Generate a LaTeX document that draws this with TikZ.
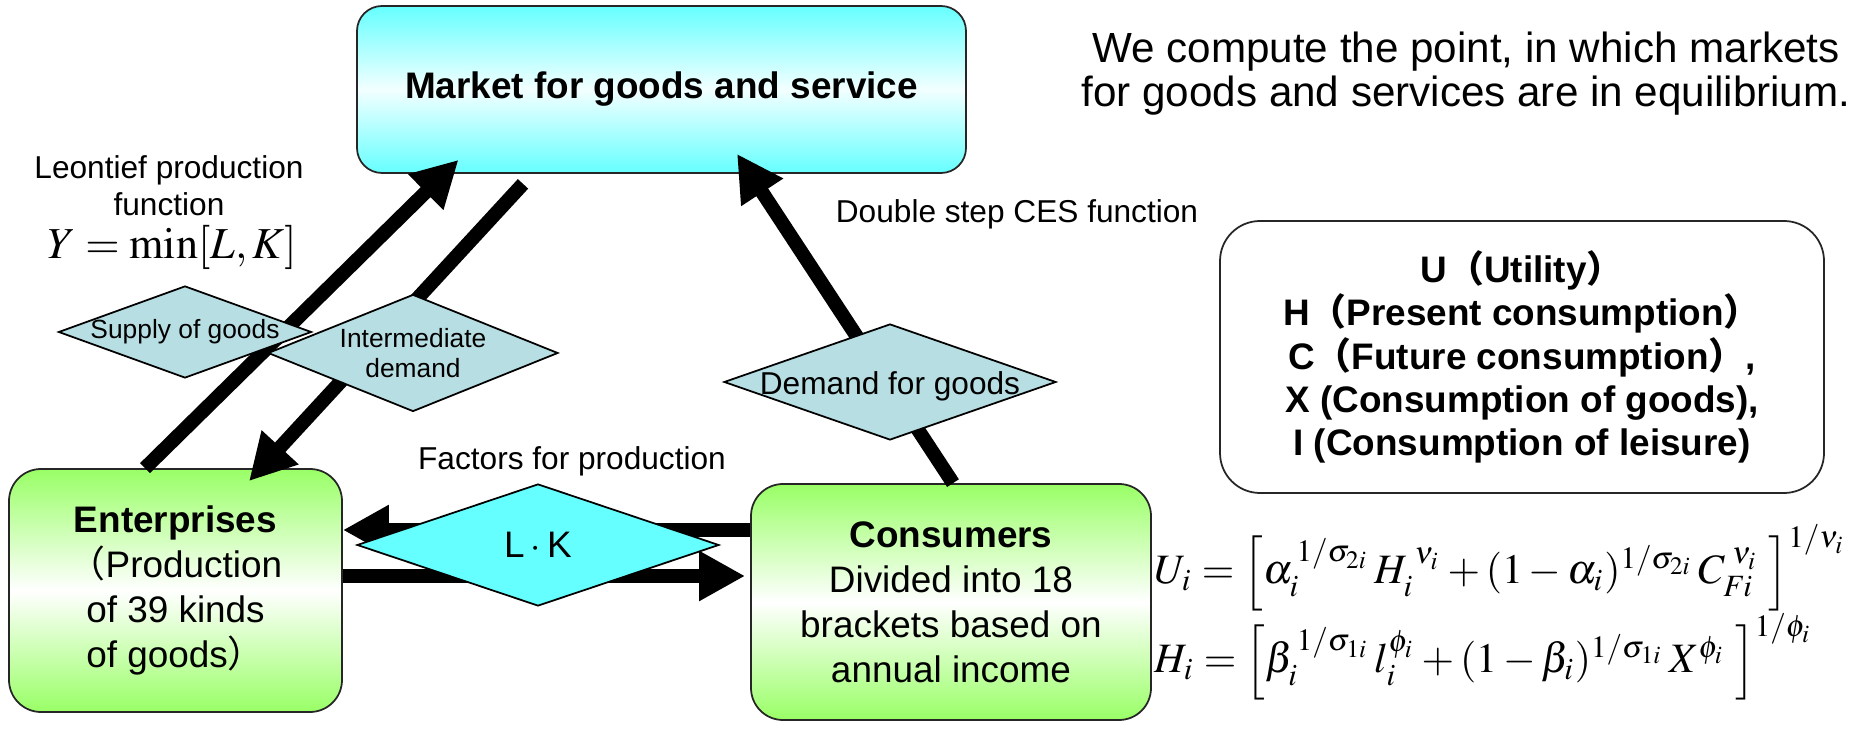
\documentclass[tikz,border=0pt]{standalone}
\usepackage{mathptmx}
\usepackage{amsmath}
\usepackage{graphicx}
\usepackage[no-math]{fontspec}
\setmainfont{Liberation Sans}
\newfontfamily\cjk{Noto Sans CJK SC}
\usetikzlibrary{shapes.geometric, arrows.meta}
\definecolor{mktcyan}{RGB}{102,255,255}
\definecolor{boxgreen}{RGB}{153,255,102}
\definecolor{dmdblue}{RGB}{183,222,226}

\begin{document}
\begin{tikzpicture}[
		every node/.style={inner sep=0pt, align=center},
		bigbox/.style={rectangle, draw=black!85, line width=0.5pt, rounded corners=0.25cm},
		mktbox/.style={bigbox, top color=mktcyan, bottom color=mktcyan, middle color=white!92!mktcyan},
		agentbox/.style={bigbox, rounded corners=0.32cm, top color=boxgreen, bottom color=boxgreen, middle color=white},
		dmd/.style={diamond, draw=black, line width=0.5pt, fill=dmdblue},
		bigarrow/.style={line width=4pt, -{Triangle[length=0.46cm, width=0.47cm]}},
		txtbody/.style={font=\fontsize{10.5}{12.8}\selectfont},
		txtsmall/.style={font=\fontsize{9}{10.5}\selectfont},
		txttiny/.style={font=\fontsize{7.5}{8.6}\selectfont}
	]
  \useasboundingbox (0cm, 0cm) rectangle (18.62cm, -7.37cm);
  \node (mkt) [mktbox, minimum width=6.09cm, minimum height=1.67cm, font=\bfseries\fontsize{10.5}{12.8}\selectfont] at (6.615cm, -0.895cm) {Market for goods and service};
  \node (ent) [agentbox, minimum width=3.33cm, minimum height=2.43cm, txtbody] at (1.755cm, -5.905cm) {\textbf{Enterprises}\\{\cjk （}Production\\of 39 kinds\\of goods{\cjk ）}};
  \node (cons) [agentbox, minimum width=4.00cm, minimum height=2.36cm, txtbody] at (9.51cm, -6.02cm) {\textbf{Consumers}\\Divided into 18\\brackets based on\\annual income};
  \node (legend) [bigbox, rounded corners=0.4cm, fill=white, minimum width=6.04cm, minimum height=2.72cm, font=\bfseries\fontsize{10.5}{12.3}\selectfont] at (15.22cm, -3.57cm) {U{\cjk （}Utility{\cjk ）}\\H{\cjk （}Present consumption{\cjk ）}\\C{\cjk （}Future consumption{\cjk ）},\\X (Consumption of goods),\\I (Consumption of leisure)};
  \node (aim) [font=\fontsize{12}{12.4}\selectfont] at (14.66cm, -0.735cm) {We compute the point, in which markets\\for goods and services are in equilibrium.};
  \node (leontief) [txtsmall] at (1.69cm, -1.855cm) {Leontief production\\function};
  \node (leontief_eq) at (1.72cm, -2.47cm) {\resizebox{2.49cm}{!}{$Y=\min[L,K]$}};
  \node (ces) [txtsmall] at (10.17cm, -2.14cm) {Double step CES function};
  \node (factors) [txtsmall] at (5.72cm, -4.61cm) {Factors for production};
  \node (u_eq) [anchor=base west] at (11.54cm, -5.84cm) {\scalebox{1.19}{$U_i=\Bigl[\alpha_i^{\,1/\sigma_{2i}}\,H_i^{\;\nu_i}+(1-\alpha_i)^{1/\sigma_{2i}}\,C_{Fi}^{\;\nu_i}\;\Bigr]^{1/\nu_i}$}};
  \node (h_eq) [anchor=base west] at (11.54cm, -6.73cm) {\scalebox{1.19}{$H_i=\Bigl[\beta_i^{\,1/\sigma_{1i}}\,l_i^{\phi_i}+(1-\beta_i)^{1/\sigma_{1i}}\,X^{\phi_i}\;\Bigr]^{1/\phi_i}$}};
  \draw[bigarrow] ([xshift=-0.305cm]ent.north) -- ([xshift=-2.03cm, yshift=0.14cm]mkt.south);
  \draw[bigarrow] ([xshift=-1.385cm, yshift=-0.10cm]mkt.south) -- ([xshift=0.735cm, yshift=-0.13cm]ent.north);
  \draw[bigarrow] ([xshift=0.02cm]cons.north) -- ([xshift=0.755cm, yshift=0.2cm]mkt.south);
  \draw[bigarrow] ([yshift=0.72cm]cons.west) -- ([yshift=0.72cm]cons.west -| ent.east);
  \draw[bigarrow] ([yshift=0.145cm]ent.east) -- ([xshift=-0.05cm, yshift=0.145cm]ent.east -| cons.west);
  \node (d_supply) [dmd, minimum width=2.53cm, minimum height=0.92cm] at (1.85cm, -3.32cm) {};
  \node (d_inter) [dmd, minimum width=2.90cm, minimum height=1.17cm] at (4.13cm, -3.53cm) {};
  \node (d_demand) [dmd, minimum width=3.32cm, minimum height=1.16cm] at (8.90cm, -3.82cm) {};
  \node (d_lk) [dmd, fill=mktcyan, minimum width=3.62cm, minimum height=1.22cm] at (5.38cm, -5.45cm) {};
  \node (t_supply) [txttiny] at (d_supply) {Supply of goods};
  \node (t_inter) [txttiny] at (d_inter) {Intermediate\\demand};
  \node (t_demand) [txtsmall] at ([yshift=-0.04cm]d_demand) {Demand for goods};
  \node (t_lk) [txtbody] at (d_lk) {L\,$\cdot$\,K};
\end{tikzpicture}
\end{document}
